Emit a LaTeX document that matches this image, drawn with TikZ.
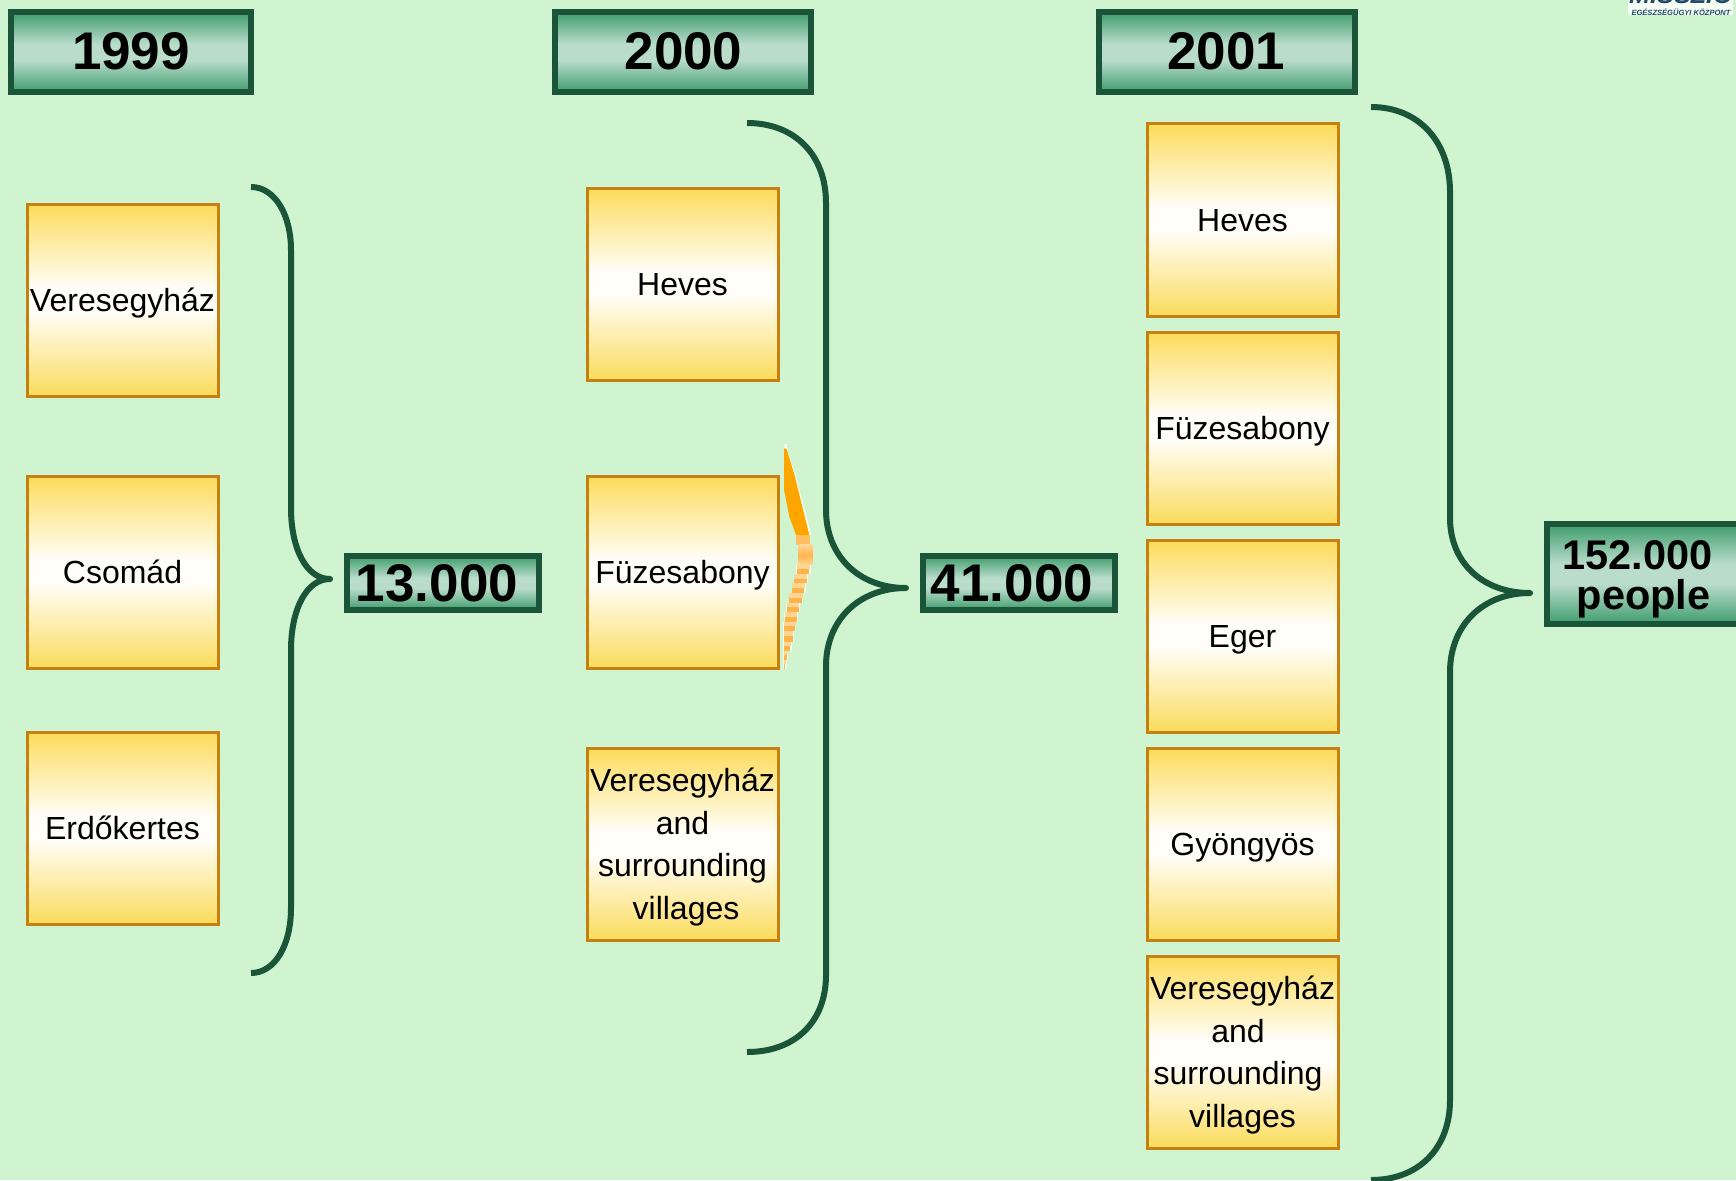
\documentclass[tikz,border=0pt]{standalone}
\usepackage{fontspec}
\setmainfont{Liberation Sans}
\definecolor{bgc}{HTML}{CFF4CF}
\definecolor{dkg}{HTML}{1B5539}
\definecolor{gedge}{HTML}{3E9C6C}
\definecolor{gmid}{HTML}{B9DCCB}
\definecolor{yedge}{HTML}{FCDC5C}
\definecolor{ymid}{HTML}{FFFEF8}
\definecolor{ystroke}{HTML}{C6800F}
\definecolor{org}{HTML}{FFA500}
\definecolor{orglo}{HTML}{FFB44A}
\definecolor{orghi}{HTML}{FFD596}
\definecolor{orgband}{HTML}{FFBE60}
\definecolor{logoc}{HTML}{234A66}
\pgfdeclareverticalshading{greenbar}{100bp}{color(0bp)=(gedge); color(25bp)=(gedge); color(45bp)=(gmid); color(55bp)=(gmid); color(75bp)=(gedge); color(100bp)=(gedge)}
\pgfdeclareverticalshading{yellowbar}{100bp}{color(0bp)=(yedge); color(25bp)=(yedge); color(47bp)=(ymid); color(53bp)=(ymid); color(75bp)=(yedge); color(100bp)=(yedge)}
\pgfdeclareverticalshading{orangeband}{100bp}{color(0bp)=(orghi); color(25bp)=(orghi); color(50bp)=(orglo); color(75bp)=(orghi); color(100bp)=(orghi)}
\tikzset{
  greenbox/.style={draw=dkg,line width=6pt,shading=greenbar,shading angle=0,inner sep=0pt,outer sep=0pt,align=center,text=black,font=\fontsize{53}{53}\selectfont\bfseries},
  yearbox/.style={greenbox,minimum height=80pt,execute at end node=\rule[-3pt]{0pt}{3pt}},
  sumbox/.style={greenbox,minimum height=54pt},
  yellowbox/.style={draw=ystroke,line width=3pt,shading=yellowbar,shading angle=0,minimum width=191pt,minimum height=192pt,inner sep=0pt,outer sep=0pt,align=center,text=black,font=\fontsize{32}{42.5}\selectfont,execute at begin node=\rule{0pt}{30pt},execute at end node=\rule[-7pt]{0pt}{7pt}},
  bracepath/.style={draw=dkg,line width=6pt,line cap=butt,line join=round}
}
\newcommand{\toplift}{\rule{0pt}{30pt}}
\begin{document}
\begin{tikzpicture}[x=1pt,y=-1pt]
\useasboundingbox (0,0) rectangle (1736,1180);
\clip (0,0) rectangle (1736,1180);
\fill[bgc] (0,0) rectangle (1736,1180);

% logo, cut off by the top edge
\fill[white!80!bgc] (1628,0) rectangle (1733,15);
\node[text=logoc,font=\fontsize{25.2}{27}\selectfont\bfseries\itshape,inner sep=0pt,anchor=base] (logotop) at (1681,4) {MISSZIÓ};
\node[text=logoc,font=\fontsize{7.55}{8}\selectfont\bfseries\itshape,inner sep=0pt] (logosub) at (1681,12.5) {EGÉSZSÉGÜGYI KÖZPONT};

% year headers
\node[yearbox,minimum width=240pt] (y1999) at (131,52) {1999};
\node[yearbox,minimum width=256pt] (y2000) at (682.5,52) {\hspace*{2pt}2000};
\node[yearbox,minimum width=256pt] (y2001) at (1227,52) {2001\kern2pt};

% column 1
\node[yellowbox] (a1) at (122.5,300) {Veresegyház};
\node[yellowbox] (a2) at (122.5,572) {Csomád};
\node[yellowbox] (a3) at (122.5,828) {Erdőkertes};

% column 2
\node[yellowbox] (b1) at (682.5,284) {Heves};
\node[yellowbox] (b2) at (682.5,572) {Füzesabony};
\node[yellowbox] (b3) at (682.5,844) {\toplift Veresegyház\\and\\surrounding\\\hspace*{7pt}villages};

% column 3
\node[yellowbox] (c1) at (1242.5,220) {Heves};
\node[yellowbox] (c2) at (1242.5,428) {Füzesabony};
\node[yellowbox] (c3) at (1242.5,636) {Eger};
\node[yellowbox] (c4) at (1242.5,844) {Gyöngyös};
\node[yellowbox] (c5) at (1242.5,1052) {\toplift Veresegyház\\and\kern9pt\\surrounding\kern9pt\\villages};

% totals
\node[sumbox,minimum width=192pt] (s1) at (443,583) {13.000\hspace*{12pt}};
\node[sumbox,minimum width=192pt] (s2) at (1019,583) {41.000\hspace*{14pt}};
\node[greenbox,minimum width=220pt,minimum height=100pt] (s3) at (1657,574) {};
\node[font=\fontsize{41.5}{40}\selectfont\bfseries,align=center,inner sep=0pt] (s3t) at (1637.7,579) {152.000\\\hspace*{12pt}people};

% braces
\draw[bracepath] (251,187) .. controls (275,187) and (291,215) .. (291,250)
  -- (291,508) .. controls (291,548) and (306,579) .. (330,579)
  .. controls (306,579) and (291,610) .. (291,650)
  -- (291,908) .. controls (291,945) and (275,973) .. (251,973);
\draw[bracepath] (747,123) .. controls (795,123) and (826,155) .. (826,203)
  -- (826,510) .. controls (826,555) and (858,588) .. (906,588)
  .. controls (858,588) and (826,621) .. (826,666)
  -- (826,975) .. controls (826,1022) and (795,1052) .. (747,1052);
\draw[bracepath] (1371,107) .. controls (1419,107) and (1450,142) .. (1450,192)
  -- (1450,518) .. controls (1450,562) and (1482,593) .. (1530,593)
  .. controls (1482,593) and (1450,626) .. (1450,672)
  -- (1450,1100) .. controls (1450,1148) and (1419,1180) .. (1371,1180);

% orange remnant, in crop units of a third of a pixel
\begin{scope}[shift={(760,430)},x=0.3333pt,y=-0.3333pt]
  \fill[white!70!bgc] (72,42) -- (80,42) -- (84,60) -- (72,60) -- cycle;
  \fill[white] (80,57) -- (108,140) -- (153,315) -- (110,315) -- cycle;
  \fill[org] (72,55) -- (80,57) -- (105,140) -- (148,315) -- (108,315) -- (88,260) -- (72,180) -- cycle;
  \fill[orgband] (108,315) rectangle (150,345);
  \fill[white] (113,345) rectangle (160,405);
  \shade[shading=orangeband,shading angle=0] (115,345) rectangle (158,405);
  \foreach \ya/\yb/\xa/\xb in {405/432/110/150,432/460/103/142,460/490/97/135,490/518/88/128,518/547/80/118,547/575/75/112,575/603/72/107,603/635/72/100,635/662/72/93,662/690/72/83,690/716/72/78}{
    \fill[white!60!bgc] (\xa-2,\ya) rectangle (\xb+2,\yb);
    \fill[orghi] (\xa,\ya) rectangle (\xb,{(\ya+\yb)/2});
    \fill[orglo] (\xa,{(\ya+\yb)/2}) rectangle (\xb-2,\yb);
  }
\end{scope}
\end{tikzpicture}
\end{document}
